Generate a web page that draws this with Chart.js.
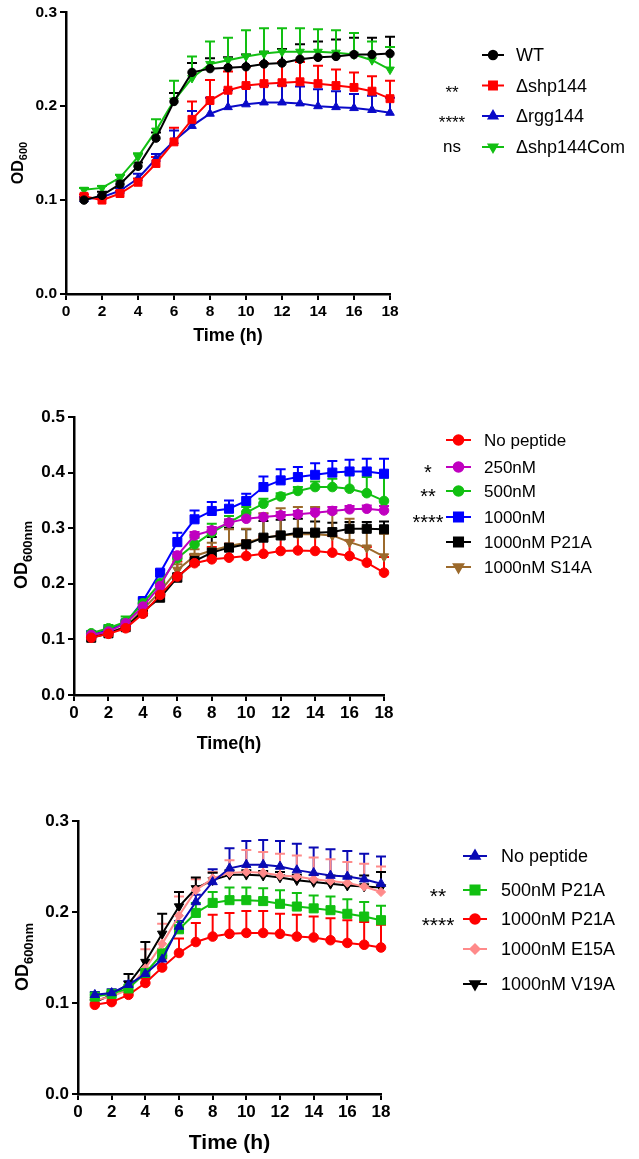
<!DOCTYPE html>
<html>
<head>
<meta charset="utf-8">
<script src="https://cdn.jsdelivr.net/npm/chart.js@4.4.1/dist/chart.umd.min.js"></script>
<style>
  html, body { margin: 0; padding: 0; background: #fff; }
  #page { position: relative; width: 639px; height: 1159px; overflow: hidden; }
  .panel { position: absolute; left: 0; width: 639px; }
</style>
</head>
<body>
<div id="page">
  <div class="panel" style="top:0;height:347px"><canvas id="chartA"></canvas></div>
  <div class="panel" style="top:347px;height:408px"><canvas id="chartB"></canvas></div>
  <div class="panel" style="top:755px;height:404px"><canvas id="chartC"></canvas></div>
</div>
<script>
const FONT = "'Liberation Sans', Arial, Helvetica, sans-serif";

const hours = [1, 2, 3, 4, 5, 6, 7, 8, 9, 10, 11, 12, 13, 14, 15, 16, 17, 18];
const xTicks = [0, 2, 4, 6, 8, 10, 12, 14, 16, 18];

// panel A : mutants
const labelsA = ['WT', 'Δshp144', 'Δrgg144', 'Δshp144Com'];
const sigA = ['', '**', '****', 'ns'];
const wtOD      = [0.100, 0.105, 0.117, 0.136, 0.166, 0.205, 0.236, 0.240, 0.241, 0.242, 0.245, 0.246, 0.250, 0.252, 0.253, 0.255, 0.255, 0.256];
const wtSD      = [0.003, 0.004, 0.004, 0.004, 0.006, 0.009, 0.010, 0.011, 0.011, 0.013, 0.013, 0.015, 0.016, 0.017, 0.018, 0.018, 0.018, 0.018];
const shpOD     = [0.104, 0.100, 0.107, 0.119, 0.139, 0.162, 0.186, 0.206, 0.217, 0.222, 0.224, 0.225, 0.226, 0.224, 0.222, 0.220, 0.216, 0.208];
const shpSD     = [0.002, 0.002, 0.003, 0.004, 0.007, 0.015, 0.019, 0.022, 0.020, 0.020, 0.022, 0.022, 0.021, 0.019, 0.017, 0.016, 0.016, 0.019];
const rggOD     = [0.101, 0.103, 0.110, 0.123, 0.144, 0.163, 0.179, 0.192, 0.199, 0.202, 0.204, 0.204, 0.203, 0.200, 0.199, 0.198, 0.196, 0.193];
const rggSD     = [0.002, 0.002, 0.003, 0.005, 0.005, 0.011, 0.016, 0.017, 0.018, 0.018, 0.018, 0.018, 0.018, 0.018, 0.017, 0.015, 0.015, 0.016];
const comOD     = [0.111, 0.113, 0.124, 0.146, 0.174, 0.206, 0.230, 0.245, 0.249, 0.253, 0.256, 0.258, 0.258, 0.258, 0.257, 0.255, 0.249, 0.239];
const comSD     = [0.002, 0.002, 0.003, 0.004, 0.012, 0.021, 0.023, 0.024, 0.024, 0.028, 0.027, 0.025, 0.025, 0.024, 0.024, 0.023, 0.020, 0.024];

// panel B : peptide doses
const labelsB = ['No peptide', '250nM', '500nM', '1000nM', '1000nM P21A', '1000nM S14A'];
const sigB = ['', '*', '**', '****', '', ''];
const noPepB    = [0.103, 0.110, 0.120, 0.146, 0.180, 0.213, 0.237, 0.244, 0.247, 0.250, 0.254, 0.259, 0.260, 0.259, 0.256, 0.250, 0.238, 0.220];
const noPepBSD  = [0.002, 0.003, 0.004, 0.008, 0.024, 0.027, 0.015, 0.022, 0.025, 0.028, 0.030, 0.030, 0.029, 0.030, 0.030, 0.028, 0.028, 0.028];
const nm250     = [0.108, 0.114, 0.129, 0.159, 0.196, 0.251, 0.287, 0.296, 0.310, 0.317, 0.320, 0.323, 0.325, 0.328, 0.331, 0.334, 0.335, 0.332];
const nm250SD   = [0.003, 0.003, 0.003, 0.004, 0.005, 0.006, 0.006, 0.006, 0.006, 0.006, 0.006, 0.006, 0.006, 0.007, 0.007, 0.006, 0.006, 0.008];
const nm500     = [0.111, 0.120, 0.132, 0.165, 0.201, 0.246, 0.271, 0.292, 0.310, 0.328, 0.344, 0.357, 0.367, 0.374, 0.374, 0.371, 0.363, 0.349];
const nm500SD   = [0.003, 0.006, 0.009, 0.006, 0.006, 0.007, 0.012, 0.016, 0.012, 0.010, 0.009, 0.006, 0.007, 0.010, 0.015, 0.027, 0.029, 0.042];
const nm1000    = [0.108, 0.117, 0.129, 0.169, 0.220, 0.275, 0.316, 0.331, 0.335, 0.349, 0.374, 0.386, 0.392, 0.396, 0.400, 0.402, 0.402, 0.398];
const nm1000SD  = [0.003, 0.004, 0.005, 0.005, 0.005, 0.017, 0.016, 0.016, 0.015, 0.013, 0.019, 0.020, 0.018, 0.021, 0.021, 0.021, 0.023, 0.027];
const p21aB     = [0.103, 0.111, 0.122, 0.150, 0.175, 0.211, 0.241, 0.256, 0.265, 0.271, 0.283, 0.287, 0.292, 0.292, 0.293, 0.299, 0.299, 0.298];
const p21aBSD   = [0.002, 0.003, 0.003, 0.004, 0.006, 0.008, 0.012, 0.028, 0.036, 0.027, 0.030, 0.028, 0.025, 0.020, 0.017, 0.012, 0.012, 0.014];
const s14aB     = [0.106, 0.112, 0.123, 0.154, 0.186, 0.225, 0.250, 0.260, 0.268, 0.274, 0.283, 0.287, 0.289, 0.289, 0.287, 0.275, 0.265, 0.249];
const s14aBSD   = [0.002, 0.003, 0.004, 0.005, 0.008, 0.010, 0.012, 0.014, 0.030, 0.025, 0.044, 0.049, 0.049, 0.049, 0.040, 0.042, 0.037, 0.041];

// panel C : point mutants
const labelsC = ['No peptide', '500nM P21A', '1000nM P21A', '1000nM E15A', '1000nM V19A'];
const sigC = ['', '**', '****', '', ''];
const noPepC    = [0.109, 0.111, 0.120, 0.132, 0.148, 0.184, 0.211, 0.233, 0.248, 0.252, 0.252, 0.250, 0.246, 0.243, 0.240, 0.239, 0.236, 0.231];
const noPepCSD  = [0.003, 0.004, 0.004, 0.004, 0.004, 0.006, 0.008, 0.014, 0.022, 0.026, 0.027, 0.028, 0.029, 0.028, 0.029, 0.028, 0.028, 0.030];
const p21a500   = [0.107, 0.110, 0.116, 0.133, 0.154, 0.181, 0.199, 0.210, 0.213, 0.213, 0.212, 0.209, 0.206, 0.204, 0.202, 0.198, 0.195, 0.191];
const p21a500SD = [0.002, 0.003, 0.003, 0.004, 0.005, 0.008, 0.011, 0.012, 0.014, 0.014, 0.014, 0.015, 0.015, 0.014, 0.015, 0.016, 0.016, 0.016];
const p21a1000  = [0.098, 0.101, 0.109, 0.122, 0.139, 0.155, 0.167, 0.173, 0.176, 0.177, 0.177, 0.176, 0.173, 0.172, 0.169, 0.166, 0.164, 0.161];
const p21a1000SD= [0.002, 0.002, 0.003, 0.005, 0.010, 0.016, 0.021, 0.024, 0.023, 0.024, 0.024, 0.022, 0.024, 0.023, 0.024, 0.025, 0.025, 0.025];
const e15a      = [0.103, 0.107, 0.115, 0.138, 0.165, 0.196, 0.224, 0.237, 0.243, 0.244, 0.243, 0.240, 0.239, 0.236, 0.234, 0.232, 0.228, 0.222];
const e15aSD    = [0.003, 0.004, 0.004, 0.021, 0.022, 0.021, 0.012, 0.007, 0.014, 0.024, 0.023, 0.024, 0.023, 0.024, 0.024, 0.023, 0.025, 0.028];
const v19a      = [0.101, 0.109, 0.121, 0.145, 0.176, 0.206, 0.226, 0.235, 0.241, 0.241, 0.240, 0.238, 0.235, 0.233, 0.231, 0.229, 0.228, 0.227];
const v19aSD    = [0.002, 0.003, 0.011, 0.022, 0.022, 0.016, 0.012, 0.008, 0.005, 0.005, 0.005, 0.006, 0.006, 0.008, 0.009, 0.010, 0.012, 0.017];

function series(label, values, sd, color, style, rotation, radius) {
  return {
    label,
    data: hours.map((h, i) => ({ x: h, y: values[i] })),
    errors: sd,
    borderColor: color,
    backgroundColor: color,
    pointBackgroundColor: color,
    pointBorderColor: color,
    pointBorderWidth: 1,
    pointStyle: style,
    pointRotation: rotation,
    pointRadius: radius,
    pointHoverRadius: radius,
    borderWidth: 2,
    tension: 0,
    clip: false
  };
}

function drawMarker(ctx, style, rotation, x, y, r) {
  if (Chart.helpers && Chart.helpers.drawPoint) {
    Chart.helpers.drawPoint(ctx, { pointStyle: style, rotation: rotation, radius: r, borderWidth: 1 }, x, y);
    return;
  }
  ctx.beginPath();
  ctx.arc(x, y, r, 0, Math.PI * 2);
  ctx.fill();
}

// upward error bars with a cap, like the prism plots
const errorBars = {
  id: 'errorBars',
  beforeDatasetsDraw(chart) {
    const { ctx, scales: { x, y } } = chart;
    chart.data.datasets.forEach(ds => {
      ctx.save();
      ctx.strokeStyle = ds.borderColor;
      ctx.lineWidth = 2;
      ds.data.forEach((p, j) => {
        const px = x.getPixelForValue(p.x);
        const py = y.getPixelForValue(p.y);
        const top = y.getPixelForValue(p.y + ds.errors[j]);
        ctx.beginPath();
        ctx.moveTo(px, py);
        ctx.lineTo(px, top);
        ctx.moveTo(px - 5, top);
        ctx.lineTo(px + 5, top);
        ctx.stroke();
      });
      ctx.restore();
    });
  }
};

function sideLegend(conf) {
  return {
    id: 'sideLegend',
    afterDraw(chart) {
      const ctx = chart.ctx;
      ctx.save();
      chart.data.datasets.forEach((ds, i) => {
        const y = conf.rows[i] - conf.offset;
        ctx.strokeStyle = ds.borderColor;
        ctx.fillStyle = ds.borderColor;
        ctx.lineWidth = 2;
        ctx.beginPath();
        ctx.moveTo(conf.x1, y);
        ctx.lineTo(conf.x2, y);
        ctx.stroke();
        drawMarker(ctx, ds.pointStyle, ds.pointRotation || 0, (conf.x1 + conf.x2) / 2, y, ds.pointRadius);

        ctx.fillStyle = '#000';
        ctx.font = `${conf.size}px ${FONT}`;
        ctx.textAlign = 'left';
        ctx.textBaseline = 'alphabetic';
        ctx.fillText(ds.label, conf.textX, y + conf.size * 0.36);

        const sig = conf.sig[i];
        if (sig) {
          ctx.font = `${conf.sigSize}px ${FONT}`;
          ctx.textAlign = 'center';
          const stars = /^\*+$/.test(sig);
          const base = stars ? y + conf.sigSize * 0.6 + conf.starShift : y + conf.sigSize * 0.27;
          ctx.fillText(sig, conf.sigX, base);
        }
      });
      ctx.restore();
    }
  };
}

function yTitle(conf) {
  return {
    id: 'yTitle',
    afterDraw(chart) {
      const ctx = chart.ctx;
      ctx.save();
      ctx.translate(conf.x, conf.y);
      ctx.rotate(-Math.PI / 2);
      ctx.fillStyle = '#000';
      ctx.textBaseline = 'alphabetic';
      ctx.textAlign = 'left';
      const mainFont = `bold ${conf.size}px ${FONT}`;
      const subFont = `bold ${conf.subSize}px ${FONT}`;
      ctx.font = mainFont;
      const w1 = ctx.measureText(conf.main).width;
      ctx.font = subFont;
      const w2 = ctx.measureText(conf.sub).width;
      const x0 = -(w1 + w2) / 2;
      const base = conf.size * 0.36;
      ctx.font = mainFont;
      ctx.fillText(conf.main, x0, base);
      ctx.font = subFont;
      ctx.fillText(conf.sub, x0 + w1, base + conf.subSize * 0.35);
      ctx.restore();
    }
  };
}

function makeChart(id, p) {
  const tickFont = { family: FONT, size: p.tickSize, weight: 'bold' };
  return new Chart(document.getElementById(id), {
    type: 'line',
    data: { datasets: p.datasets },
    options: {
      responsive: true,
      maintainAspectRatio: false,
      animation: false,
      devicePixelRatio: 1,
      layout: { padding: p.padding },
      plugins: { legend: { display: false }, tooltip: { enabled: false } },
      scales: {
        x: {
          type: 'linear',
          min: 0,
          max: 18,
          afterBuildTicks: s => { s.ticks = xTicks.map(v => ({ value: v })); },
          ticks: { color: '#000', font: tickFont, padding: 2, maxRotation: 0, autoSkip: false },
          grid: { drawOnChartArea: false, drawTicks: true, tickLength: 6, color: '#000', lineWidth: 2 },
          border: { color: '#000', width: 2.5 },
          title: {
            display: true, text: p.xTitle, color: '#000',
            font: { family: FONT, size: p.xTitleSize, weight: 'bold' },
            padding: { top: 0, bottom: 0 }
          },
          afterFit: s => { s.height = p.xHeight; }
        },
        y: {
          min: 0,
          max: p.yMax,
          ticks: { stepSize: 0.1, color: '#000', font: tickFont, padding: 3, callback: v => v.toFixed(1) },
          grid: { drawOnChartArea: false, drawTicks: true, tickLength: 6, color: '#000', lineWidth: 2 },
          border: { color: '#000', width: 2.5 },
          afterFit: s => { s.width = p.yWidth; }
        }
      }
    },
    plugins: [errorBars, sideLegend(p.legend), yTitle(p.yTitle)]
  });
}

makeChart('chartA', {
  datasets: [
    series(labelsA[0], wtOD, wtSD, '#000000', 'circle', 0, 4.2),
    series(labelsA[1], shpOD, shpSD, '#ff0000', 'rect', 0, 5.6),
    series(labelsA[2], rggOD, rggSD, '#0a0ac8', 'triangle', 0, 5),
    series(labelsA[3], comOD, comSD, '#12bf12', 'triangle', 180, 5)
  ],
  padding: { top: 11, right: 249, left: 0, bottom: 0 },
  yWidth: 66, xHeight: 53, yMax: 0.3, tickSize: 15.5,
  xTitle: 'Time (h)', xTitleSize: 18,
  yTitle: { main: 'OD', sub: '600', x: 17, y: 163, size: 16, subSize: 11 },
  legend: { offset: 0, rows: [55, 85.5, 116, 147], x1: 482, x2: 504, textX: 516, size: 18,
            sig: sigA, sigX: 452, sigSize: 17, starShift: 2 }
});

makeChart('chartB', {
  datasets: [
    series(labelsB[0], noPepB, noPepBSD, '#ff0000', 'circle', 0, 4.8),
    series(labelsB[1], nm250, nm250SD, '#c000c0', 'circle', 0, 4.8),
    series(labelsB[2], nm500, nm500SD, '#11c011', 'circle', 0, 4.8),
    series(labelsB[3], nm1000, nm1000SD, '#0000ff', 'rect', 0, 6.4),
    series(labelsB[4], p21aB, p21aBSD, '#000000', 'rect', 0, 6.4),
    series(labelsB[5], s14aB, s14aBSD, '#9c6a2c', 'triangle', 180, 5.4)
  ],
  padding: { top: 70, right: 255, left: 0, bottom: 0 },
  yWidth: 74, xHeight: 60, yMax: 0.5, tickSize: 17,
  xTitle: 'Time(h)', xTitleSize: 18,
  yTitle: { main: 'OD', sub: '600nm', x: 21, y: 555 - 347, size: 18, subSize: 13 },
  legend: { offset: 347, rows: [440, 467, 491, 517, 542, 567], x1: 446, x2: 471, textX: 484, size: 17,
            sig: sigB, sigX: 428, sigSize: 20, starShift: 0 }
});

makeChart('chartC', {
  datasets: [
    series(labelsC[0], noPepC, noPepCSD, '#0a0ab4', 'triangle', 0, 5.4),
    series(labelsC[1], p21a500, p21a500SD, '#11c011', 'rect', 0, 6.4),
    series(labelsC[2], p21a1000, p21a1000SD, '#ff0000', 'circle', 0, 4.8),
    series(labelsC[3], e15a, e15aSD, '#ff8a8a', 'rectRot', 0, 4.6),
    series(labelsC[4], v19a, v19aSD, '#000000', 'triangle', 180, 5.4)
  ],
  padding: { top: 66, right: 258, left: 0, bottom: 3 },
  yWidth: 78, xHeight: 62, yMax: 0.3, tickSize: 17,
  xTitle: 'Time (h)', xTitleSize: 21,
  yTitle: { main: 'OD', sub: '600nm', x: 22, y: 957 - 755, size: 18, subSize: 13 },
  legend: { offset: 755, rows: [856, 890, 919, 949, 984], x1: 463, x2: 487, textX: 501, size: 18,
            sig: sigC, sigX: 438, sigSize: 21, starShift: 0 }
});
</script>
</body>
</html>
